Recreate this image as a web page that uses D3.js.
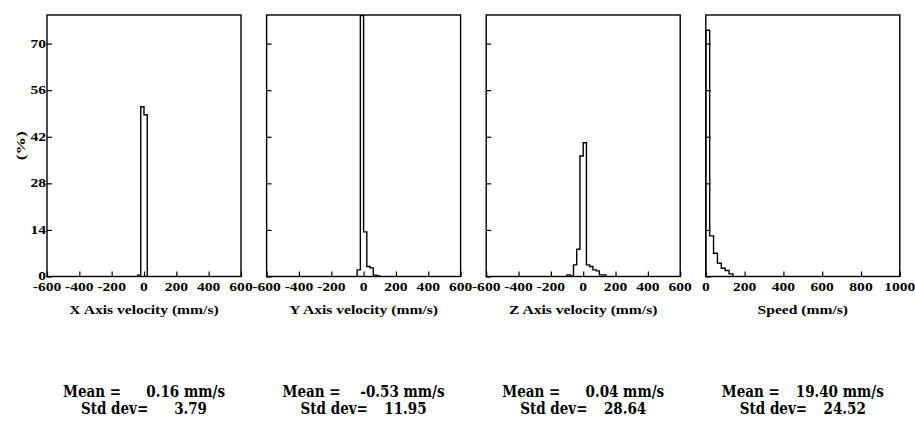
<!DOCTYPE html>
<html>
<head>
<meta charset="utf-8">
<script src="https://cdn.jsdelivr.net/npm/d3@7"></script>
<style>
  body { margin: 0; background: #fff; }
  svg { display: block; }
</style>
</head>
<body>
<svg id="chart" width="915" height="425"></svg>
<script>
// Histogram bins are 20 mm/s wide; values are percentages of samples.
const binWidth = 20;

const axisTitles = ["X Axis velocity (mm/s)", "Y Axis velocity (mm/s)", "Z Axis velocity (mm/s)", "Speed (mm/s)"];
const xDomains = [[-600, 600], [-600, 600], [-600, 600], [0, 1000]];
const xTickValues = [
  [-600, -400, -200, 0, 200, 400, 600],
  [-600, -400, -200, 0, 200, 400, 600],
  [-600, -400, -200, 0, 200, 400, 600],
  [0, 200, 400, 600, 800, 1000]
];
const yTickValues = [0, 14, 28, 42, 56, 70];
const yMax = 78.6;

// Left edge of each bin, per panel
const xBinStarts = [-40, -20, 0];
const xPercent   = [0.4, 51.0, 48.6];

const yBinStarts = [-40, -20, 0, 20, 40, 60, 80];
const yPercent   = [2.0, 78.4, 13.4, 3.0, 2.6, 0.4, 0.2];

const zBinStarts = [-100, -80, -60, -40, -20, 0, 20, 40, 60, 80, 100, 120];
const zPercent   = [0.5, 0.2, 3.5, 8.2, 36.2, 40.2, 3.5, 3.0, 2.0, 1.7, 0.5, 0.5];

const speedBinStarts = [0, 20, 40, 60, 80, 100, 120];
const speedPercent   = [74.0, 12.2, 7.0, 4.0, 2.5, 1.8, 0.8];

const binStarts = [xBinStarts, yBinStarts, zBinStarts, speedBinStarts];
const percents  = [xPercent, yPercent, zPercent, speedPercent];

const meanValues   = ["0.16", "-0.53", "0.04", "19.40"];
const stdDevValues = ["3.79", "11.95", "28.64", "24.52"];

// ---- layout ----
const svg = d3.select("#chart");
const panelLeft0 = 47, panelStep = 219.6, panelW = 194;
const plotTop = 15, plotBottom = 276.5;
const serif = "'Liberation Serif', 'Times New Roman', serif";
const statFont = "'DejaVu Serif Condensed', 'DejaVu Serif', serif";

const y = d3.scaleLinear().domain([0, yMax]).range([plotBottom, plotTop]);

// text with a stretch, anchored at (x, y)
function stretchedText(g, str, x, yy, opts) {
  const t = g.append("text")
    .attr("transform", `translate(${x},${yy}) scale(${opts.sx || 1},${opts.sy || 1})`)
    .attr("text-anchor", opts.anchor || "start")
    .attr("font-family", opts.family || serif)
    .attr("font-weight", "bold")
    .attr("font-size", opts.size || 12)
    .attr("fill", "#000")
    .text(str);
  if (opts.dy) t.attr("dy", opts.dy);
  return t;
}

percents.forEach((vals, i) => {
  const left = panelLeft0 + i * panelStep;
  const x = d3.scaleLinear().domain(xDomains[i]).range([left, left + panelW]);
  const g = svg.append("g");

  // frame
  g.append("rect")
    .attr("x", left).attr("y", plotTop)
    .attr("width", panelW).attr("height", plotBottom - plotTop)
    .attr("fill", "none").attr("stroke", "#000").attr("stroke-width", 1.4);

  // x ticks point up into the plot
  const xAxis = d3.axisBottom(x).tickValues(xTickValues[i]).tickSizeInner(-5).tickSizeOuter(0).tickFormat("");
  const xa = g.append("g").attr("transform", `translate(0,${plotBottom})`).call(xAxis);
  xa.select(".domain").remove();
  xa.selectAll("line").attr("stroke", "#000").attr("stroke-width", 1.2);

  // y ticks point right into the plot
  const yAxis = d3.axisLeft(y).tickValues(yTickValues).tickSizeInner(-5).tickSizeOuter(0).tickFormat("");
  const ya = g.append("g").attr("transform", `translate(${left},0)`).call(yAxis);
  ya.select(".domain").remove();
  ya.selectAll("line").attr("stroke", "#000").attr("stroke-width", 1.2);

  // x tick labels
  xTickValues[i].forEach(v => {
    stretchedText(g, String(v), x(v), 291, { anchor: "middle", size: 12, sx: 1.3 });
  });

  // y tick labels (first panel only)
  if (i === 0) {
    yTickValues.forEach(v => {
      stretchedText(g, String(v), left - 1, y(v), { anchor: "end", size: 12, sx: 1.3, dy: "0.33em" });
    });
    g.append("text")
      .attr("transform", `translate(25,${(plotTop + plotBottom) / 2}) rotate(-90) scale(1.35,1)`)
      .attr("text-anchor", "middle")
      .attr("font-family", serif).attr("font-weight", "bold").attr("font-size", 13)
      .text("(%)");
  }

  // axis title
  stretchedText(g, axisTitles[i], left + panelW / 2, 314, { anchor: "middle", size: 13, sx: 1.2 });

  // histogram outline
  const pts = [[binStarts[i][0], 0]];
  binStarts[i].forEach((b, k) => pts.push([b, vals[k]]));
  pts.push([binStarts[i][binStarts[i].length - 1] + binWidth, 0]);
  const line = d3.line().x(d => x(d[0])).y(d => y(d[1])).curve(d3.curveStepAfter);
  g.append("path")
    .attr("d", line(pts))
    .attr("fill", "none").attr("stroke", "#000").attr("stroke-width", 1.4);

  // summary statistics
  const statStyle = { family: statFont, size: 15, sx: 1, sy: 1.08 };
  stretchedText(g, "Mean =", left + 16, 397, statStyle);
  stretchedText(g, meanValues[i] + " mm/s", left + 178, 397, { ...statStyle, anchor: "end" });
  stretchedText(g, "Std dev=", left + 34, 413.5, statStyle);
  stretchedText(g, stdDevValues[i], left + 160, 413.5, { ...statStyle, anchor: "end" });
});
</script>
</body>
</html>
